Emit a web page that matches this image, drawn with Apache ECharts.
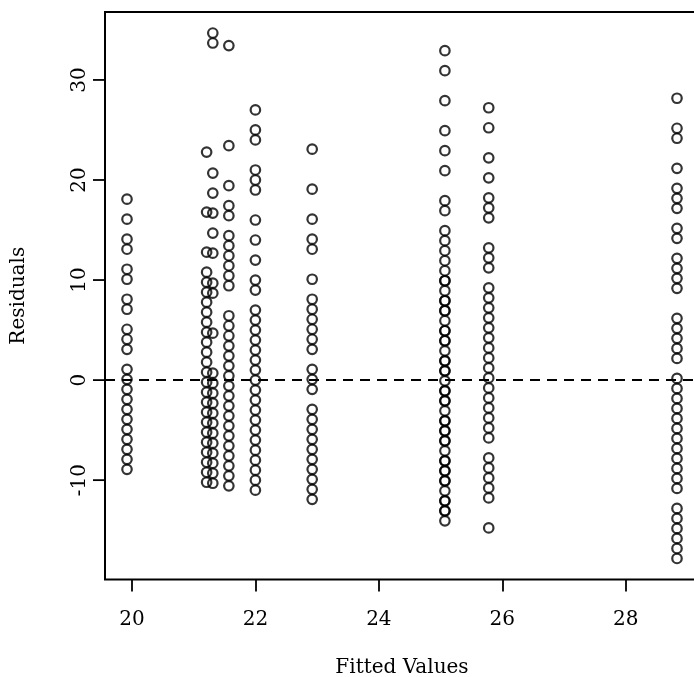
<!DOCTYPE html>
<html>
<head>
<meta charset="utf-8">
<script src="https://cdn.jsdelivr.net/npm/echarts@6/dist/echarts.min.js"></script>
<style>
  html, body { margin: 0; padding: 0; background: #fff; overflow: hidden; }
  #chart { width: 694px; height: 677px; }
</style>
</head>
<body>
<div id="chart"></div>
<script>
// Fitted value of each group and the residuals observed at it
const fittedLevels = [19.92, 21.21, 21.31, 21.57, 22.00, 22.92, 25.07, 25.78, 28.83];

const resid1992 = [18.08, 16.08, 14.08, 13.08, 11.08, 10.08, 8.08, 7.08, 5.08, 4.08, 3.08,
  1.08, 0.08, -0.92, -1.92, -2.92, -3.92, -4.92, -5.92, -6.92, -7.92, -8.92];
const resid2121 = [22.79, 16.79, 12.79, 10.79, 9.79, 8.79, 7.79, 6.79, 5.79, 4.79, 3.79,
  2.79, 1.79, 0.79, -0.21, -1.21, -2.21, -3.21, -4.21, -5.21, -6.21, -7.21, -8.21,
  -9.21, -10.21];
const resid2131 = [34.69, 33.69, 20.69, 18.69, 16.69, 14.69, 12.69, 9.69, 8.69, 4.69,
  0.69, -0.31, -1.31, -2.31, -3.31, -4.31, -5.31, -6.31, -7.31, -8.31, -9.31, -10.31];
const resid2157 = [33.43, 23.43, 19.43, 17.43, 16.43, 14.43, 13.43, 12.43, 11.43, 10.43,
  9.43, 6.43, 5.43, 4.43, 3.43, 2.43, 1.43, 0.43, -0.57, -1.57, -2.57, -3.57, -4.57,
  -5.57, -6.57, -7.57, -8.57, -9.57, -10.57];
const resid2200 = [27, 25, 24, 21, 20, 19, 16, 14, 12, 10, 9, 7, 6, 5, 4, 3, 2, 1, 0,
  -1, -2, -3, -4, -5, -6, -7, -8, -9, -10, -11];
const resid2292 = [23.08, 19.08, 16.08, 14.08, 13.08, 10.08, 8.08, 7.08, 6.08, 5.08, 4.08,
  3.08, 1.08, 0.08, -0.92, -2.92, -3.92, -4.92, -5.92, -6.92, -7.92, -8.92, -9.92,
  -10.92, -11.92];
const resid2507 = [32.93, 30.93, 27.93, 24.93, 22.93, 20.93, 17.93, 16.93, 14.93, 13.93,
  12.93, 11.93, 10.93, 9.93, 8.93, 7.93, 6.93, 5.93, 4.93, 3.93, 2.93, 1.93, 0.93, -0.07,
  -1.07, -2.07, -3.07, -4.07, -5.07, -6.07, -7.07, -8.07, -9.07, -10.07, -11.07, -12.07,
  -13.07, -14.07,
  // repeated observations at the same value
  9.93, 7.93, 6.93, 4.93, 3.93, 1.93, 0.93, -1.07, -2.07, -4.07, -5.07, -6.07, -8.07,
  -9.07, -10.07, -12.07, -13.07];
const resid2578 = [27.22, 25.22, 22.22, 20.22, 18.22, 17.22, 16.22, 13.22, 12.22, 11.22,
  9.22, 8.22, 7.22, 6.22, 5.22, 4.22, 3.22, 2.22, 1.22, 0.22, -0.78, -1.78, -2.78, -3.78,
  -4.78, -5.78, -7.78, -8.78, -9.78, -10.78, -11.78, -14.78];
const resid2883 = [28.17, 25.17, 24.17, 21.17, 19.17, 18.17, 17.17, 15.17, 14.17, 12.17,
  11.17, 10.17, 9.17, 6.17, 5.17, 4.17, 3.17, 2.17, 0.17, -0.83, -1.83, -2.83, -3.83,
  -4.83, -5.83, -6.83, -7.83, -8.83, -9.83, -10.83, -12.83, -13.83, -14.83, -15.83,
  -16.83, -17.83];

const residualGroups = [resid1992, resid2121, resid2131, resid2157, resid2200,
  resid2292, resid2507, resid2578, resid2883];

const xTicks = [20, 22, 24, 26, 28];
const yTicks = [-10, 0, 10, 20, 30];

// (fitted, residual) pairs
const points = [];
fittedLevels.forEach((f, i) => {
  residualGroups[i].forEach(r => points.push([f, r]));
});

// Axis limits padded by 4% of the data range on each side
function paddedRange(vals) {
  const lo = Math.min(...vals), hi = Math.max(...vals);
  const pad = (hi - lo) * 0.04;
  return [lo - pad, hi + pad];
}
const xlim = paddedRange(points.map(p => p[0]));
const ylim = paddedRange(points.map(p => p[1]));

const FONT = 'DejaVu Serif';
const TICK_LEN = 12;
const chart = echarts.init(document.getElementById('chart'), null, { renderer: 'canvas' });

chart.setOption({
  animation: false,
  backgroundColor: '#ffffff',
  grid: {
    left: 105, top: 12, width: 594, height: 567.5,
    outerBoundsMode: 'none', containLabel: false,
    show: true, borderColor: '#000', borderWidth: 2, backgroundColor: 'transparent'
  },
  xAxis: {
    type: 'value', min: xlim[0], max: xlim[1],
    splitLine: { show: false },
    axisLine: { show: false, onZero: false },
    axisTick: { show: true, length: TICK_LEN, lineStyle: { color: '#000', width: 1.8 }, customValues: xTicks },
    axisLabel: { customValues: xTicks, fontFamily: FONT, fontSize: 20, color: '#000', margin: 30 },
    name: 'Fitted Values', nameLocation: 'middle', nameGap: 78,
    nameTextStyle: { fontFamily: FONT, fontSize: 20, color: '#000' }
  },
  yAxis: {
    type: 'value', min: ylim[0], max: ylim[1],
    splitLine: { show: false },
    axisLine: { show: false, onZero: false },
    axisTick: { show: false },
    axisLabel: { customValues: yTicks, rotate: 90, fontFamily: FONT, fontSize: 20, color: '#000', margin: 15 },
    name: 'Residuals', nameLocation: 'middle', nameRotate: 90, nameGap: 76,
    nameTextStyle: { fontFamily: FONT, fontSize: 20, color: '#000' }
  },
  series: [
    {
      type: 'scatter',
      data: points,
      symbol: 'circle',
      symbolSize: 9.5,
      itemStyle: { color: 'transparent', borderColor: '#000', borderWidth: 2.2 },
      markLine: {
        silent: true,
        symbol: ['none', 'none'],
        label: { show: false },
        lineStyle: { color: '#000', width: 1.8, type: [10, 7] },
        data: [{ yAxis: 0 }]
      }
    },
    {
      // outward tick marks on the residual axis, placed through the y scale
      type: 'custom',
      silent: true,
      clip: false,
      data: yTicks.map(v => [xlim[0], v]),
      renderItem: (params, api) => {
        const p = api.coord([api.value(0), api.value(1)]);
        return {
          type: 'line',
          shape: { x1: p[0] - TICK_LEN, y1: p[1], x2: p[0], y2: p[1] },
          style: { stroke: '#000', lineWidth: 1.8 }
        };
      }
    }
  ]
});
</script>
</body>
</html>
